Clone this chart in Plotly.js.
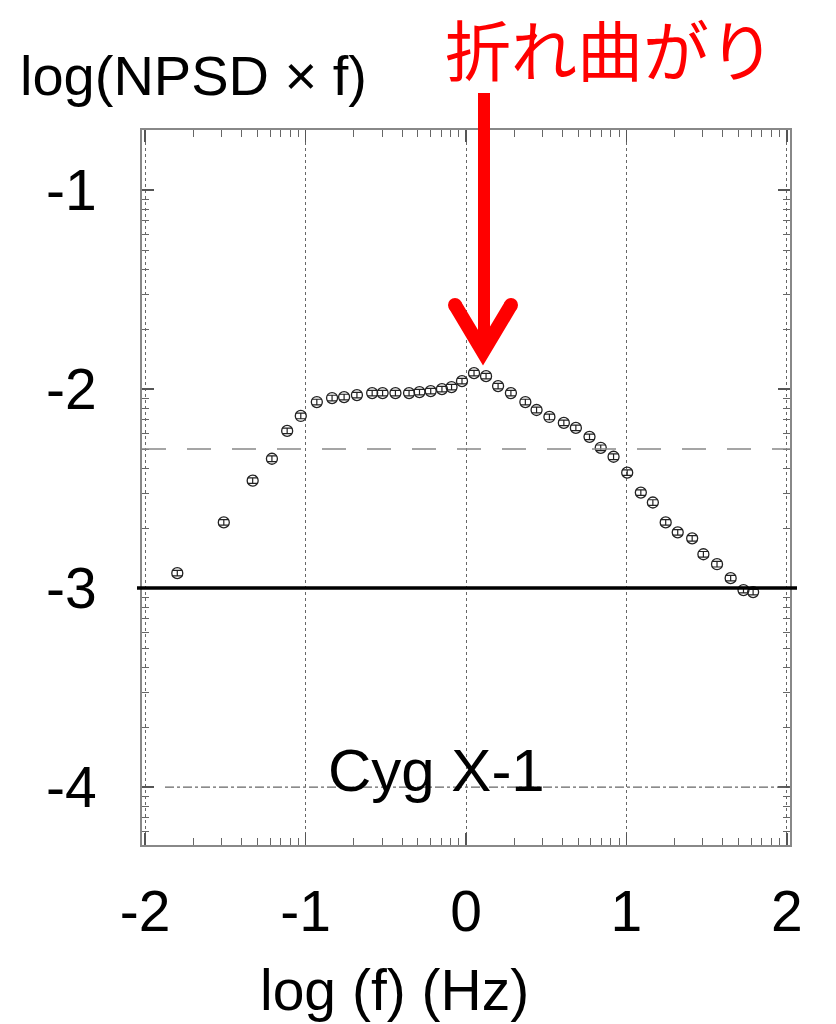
<!DOCTYPE html>
<html>
<head>
<meta charset="utf-8">
<script src="https://cdn.plot.ly/plotly-3.0.1.min.js"></script>
<style>html,body{margin:0;padding:0;background:#fff;}#chart{width:836px;height:1024px;}</style>
</head>
<body>
<div id="chart"></div>
<script>
// ---- data ----
const logF = [-1.80, -1.51, -1.33, -1.21, -1.115, -1.03, -0.93, -0.835, -0.76, -0.68, -0.585, -0.52, -0.44, -0.355, -0.29, -0.22, -0.15, -0.09, -0.025,
  0.05, 0.125, 0.20, 0.28, 0.37, 0.44, 0.52, 0.61, 0.685, 0.77, 0.84, 0.92, 1.005, 1.09, 1.165, 1.245, 1.32, 1.41, 1.48, 1.565, 1.65, 1.73, 1.79];
const logNPSDf = [-2.925, -2.67, -2.46, -2.35, -2.21, -2.135, -2.065, -2.045, -2.04, -2.03, -2.02, -2.02, -2.02, -2.02, -2.015, -2.01, -2.00, -1.99, -1.96,
  -1.92, -1.935, -1.985, -2.02, -2.065, -2.105, -2.14, -2.17, -2.195, -2.24, -2.295, -2.34, -2.42, -2.52, -2.57, -2.67, -2.72, -2.75, -2.83, -2.88, -2.95, -3.01, -3.02];
const xTickVals = [-2, -1, 0, 1, 2];
const xTickText = ["-2", "-1", "0", "1", "2"];
const yTickVals = [-4, -3, -2, -1];
const yTickText = ["-4", "-3", "-2", "-1"];
const refSolid = -3;          // solid reference level
const refDashed = -2.301;     // dashed reference level
const refDotted = -4;         // dotted reference level
const xTitle = "log (f) (Hz)";
const yTitle = "log(NPSD × f)";
const sourceLabel = "Cyg X-1";
const breakLabel = "折れ曲がり";

// minor (logarithmic) tick positions inside each decade
function minorTicks(d0, d1) {
  const out = [];
  for (let d = d0; d < d1; d++) for (let k = 2; k <= 9; k++) out.push(d + Math.log10(k));
  return out;
}

// ---- geometry helpers (pixel -> paper) ----
const L = 142, R = 790, T = 130, B = 845;
const px = x => (x - L) / (R - L);
const py = y => (B - y) / (B - T);

const font = "'Liberation Sans', Arial, sans-serif";
const red = "#ff0000";

const trace = {
  x: logF, y: logNPSDf, type: "scatter", mode: "markers",
  marker: {symbol: "circle-open", size: 11, color: "#222", line: {width: 1.3, color: "#222"}},
  error_y: {type: "constant", value: 0.014, color: "#222", thickness: 1.2, width: 5},
  hoverinfo: "x+y", showlegend: false
};

function circ(cx, cy, r, color) {
  return {type: "circle", xref: "paper", yref: "paper", x0: px(cx - r), x1: px(cx + r), y0: py(cy + r), y1: py(cy - r),
    fillcolor: color, line: {width: 0}, layer: "above"};
}
const headPts = [[449, 308.6], [483, 365.6], [517, 308.6], [505, 301.4], [483, 338.3], [461, 301.4]];
const headPath = "M" + headPts.map(p => px(p[0]) + "," + py(p[1])).join(" L") + " Z";

const shapes = [
  {type: "line", xref: "paper", yref: "y", x0: px(165), x1: 1, y0: refDotted, y1: refDotted, line: {color: "#666", width: 1.2, dash: "dashdot"}},
  {type: "line", xref: "paper", yref: "y", x0: 0, x1: 1, y0: refDashed, y1: refDashed, line: {color: "#888", width: 1.5, dash: "24px,21px"}},
  {type: "line", xref: "paper", yref: "y", x0: px(137), x1: px(797), y0: refSolid, y1: refSolid, line: {color: "#000", width: 3.5}},
  // red arrow
  {type: "rect", xref: "paper", yref: "paper", x0: px(478), x1: px(490), y0: py(345), y1: py(93), fillcolor: red, line: {width: 0}, layer: "above"},
  {type: "path", xref: "paper", yref: "paper", path: headPath, fillcolor: red, line: {width: 0}, layer: "above"},
  circ(455, 305, 7, red), circ(511, 305, 7, red)
];

const annotations = [
  {text: yTitle, xref: "paper", yref: "paper", x: px(193), y: py(75), xanchor: "center", yanchor: "middle", showarrow: false,
    font: {family: font, size: 56, color: "#000"}},
  {text: breakLabel, xref: "paper", yref: "paper", x: px(610), y: py(47), xanchor: "center", yanchor: "middle", showarrow: false,
    font: {family: "'Noto Sans CJK JP', sans-serif", size: 66, color: red}},
  {text: sourceLabel, xref: "paper", yref: "paper", x: px(436), y: py(770), xanchor: "center", yanchor: "middle", showarrow: false,
    font: {family: font, size: 60, color: "#000"}},
  {text: xTitle, xref: "paper", yref: "paper", x: px(394), y: py(990), xanchor: "center", yanchor: "middle", showarrow: false,
    font: {family: font, size: 57, color: "#000"}}
];

const layout = {
  width: 836, height: 1024,
  margin: {l: L, r: 836 - R, t: T, b: 1024 - B},
  paper_bgcolor: "#fff", plot_bgcolor: "#fff",
  showlegend: false,
  xaxis: {
    range: [-2.02, 2.02], tickmode: "array", tickvals: xTickVals, ticktext: xTickText,
    ticks: "inside", ticklen: 12, tickwidth: 1.5, tickcolor: "#555",
    showline: true, linecolor: "#888", linewidth: 2, mirror: "ticks",
    showgrid: true, gridcolor: "#666", gridwidth: 1, griddash: "dot", zeroline: false,
    tickfont: {family: font, size: 57, color: "#000"}, ticklabelstandoff: 16,
    minor: {tickmode: "array", tickvals: minorTicks(-2, 2), ticks: "inside", ticklen: 7, tickcolor: "#666", tickwidth: 1, showgrid: false}
  },
  yaxis: {
    range: [-4.291, -0.698], tickmode: "array", tickvals: yTickVals, ticktext: yTickText,
    ticks: "inside", ticklen: 12, tickwidth: 1.5, tickcolor: "#555",
    showline: true, linecolor: "#888", linewidth: 2, mirror: "ticks",
    showgrid: false, zeroline: false,
    tickfont: {family: font, size: 57, color: "#000"}, ticklabelstandoff: 32,
    minor: {tickmode: "array", tickvals: minorTicks(-5, -1), ticks: "inside", ticklen: 7, tickcolor: "#666", tickwidth: 1, showgrid: false}
  },
  shapes: shapes,
  annotations: annotations
};

Plotly.newPlot("chart", [trace], layout, {displayModeBar: false, staticPlot: true});
</script>
</body>
</html>
